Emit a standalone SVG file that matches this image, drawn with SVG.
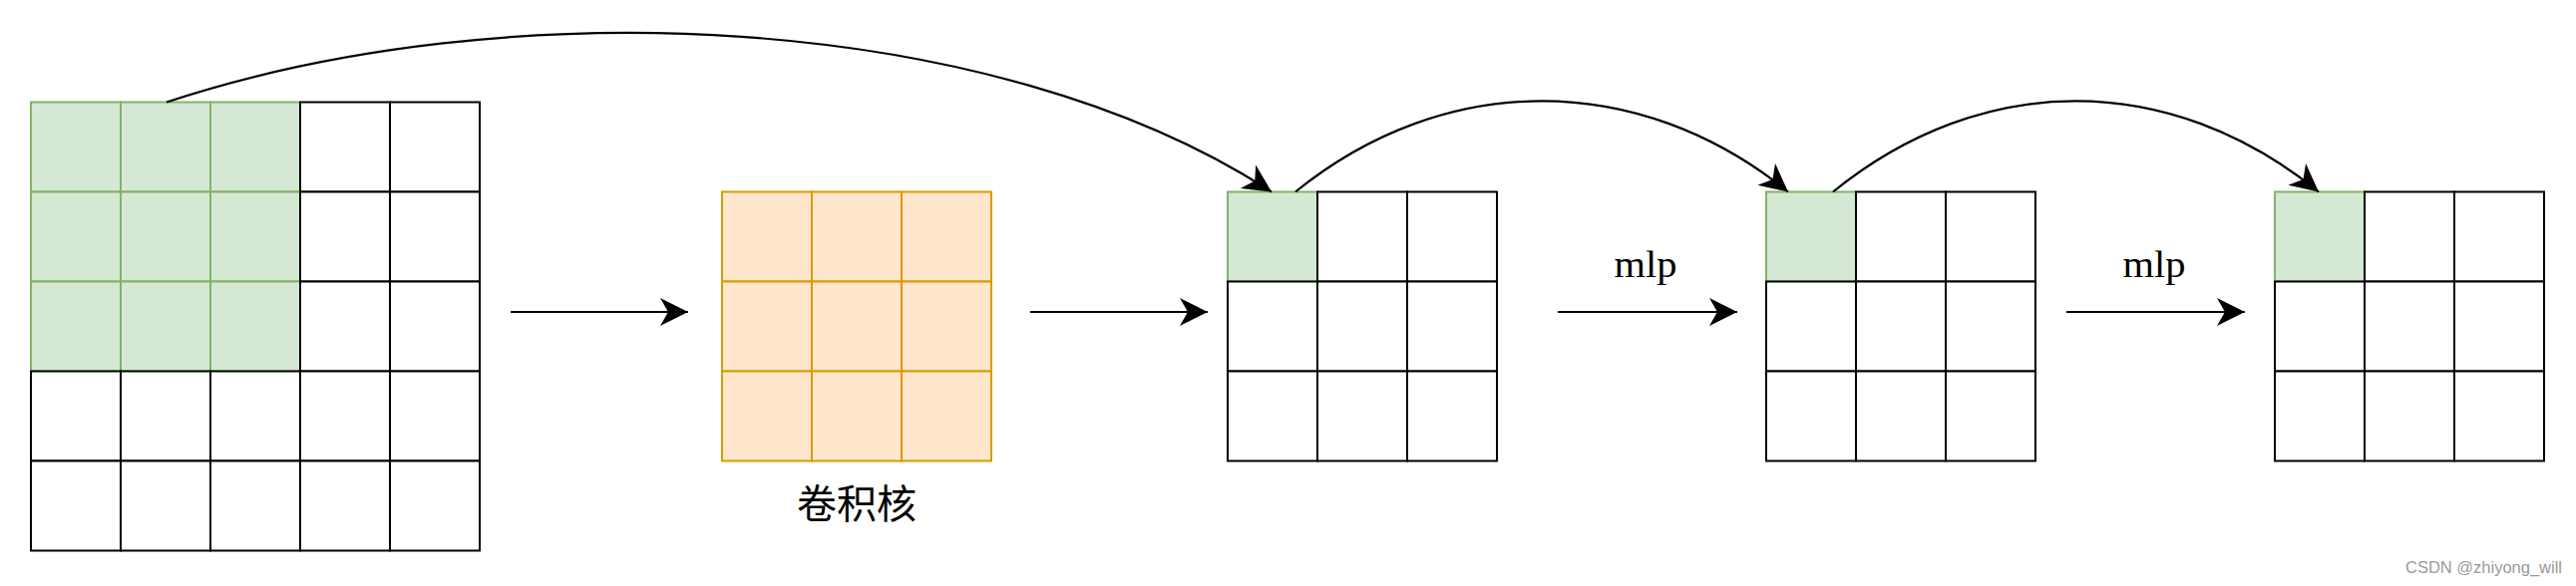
<svg xmlns="http://www.w3.org/2000/svg" width="2583" height="588" viewBox="0 0 2583 588">
<style>
.w{fill:#ffffff;stroke:#000000;stroke-width:2}
.g{fill:#d5e8d4;stroke:#82b366;stroke-width:2}
.o{fill:#ffe6cc;stroke:#d79b00;stroke-width:2}
.e{fill:none;stroke:#000000;stroke-width:2.2}
.lbl{font-family:"Liberation Serif","Times New Roman",serif;font-size:37px;fill:#000000}
.cjk{font-family:"Noto Sans CJK SC","Noto Sans CJK JP",sans-serif;font-size:40px;fill:#000000}
.wm{font-family:"Liberation Sans",Arial,sans-serif;font-size:17px;fill:#9a9a9a}
</style>
<defs>
<marker id="arrow" markerUnits="userSpaceOnUse" viewBox="-30 -15 32 30" markerWidth="32" markerHeight="30" refX="0" refY="0" orient="auto" overflow="visible">
<path d="M0,0 L-28,-14 L-20,0 L-28,14 Z" fill="#000000" stroke="none"/>
</marker>
</defs>
<rect width="2583" height="588" fill="#ffffff"/>

<g id="input-grid">
<rect class="g" x="31" y="102.5" width="90" height="90"/>
<rect class="g" x="121" y="102.5" width="90" height="90"/>
<rect class="g" x="211" y="102.5" width="90" height="90"/>
<rect class="g" x="31" y="192.5" width="90" height="90"/>
<rect class="g" x="121" y="192.5" width="90" height="90"/>
<rect class="g" x="211" y="192.5" width="90" height="90"/>
<rect class="g" x="31" y="282.5" width="90" height="90"/>
<rect class="g" x="121" y="282.5" width="90" height="90"/>
<rect class="g" x="211" y="282.5" width="90" height="90"/>
<rect class="w" x="301" y="102.5" width="90" height="90"/>
<rect class="w" x="391" y="102.5" width="90" height="90"/>
<rect class="w" x="301" y="192.5" width="90" height="90"/>
<rect class="w" x="391" y="192.5" width="90" height="90"/>
<rect class="w" x="301" y="282.5" width="90" height="90"/>
<rect class="w" x="391" y="282.5" width="90" height="90"/>
<rect class="w" x="31" y="372.5" width="90" height="90"/>
<rect class="w" x="121" y="372.5" width="90" height="90"/>
<rect class="w" x="211" y="372.5" width="90" height="90"/>
<rect class="w" x="301" y="372.5" width="90" height="90"/>
<rect class="w" x="391" y="372.5" width="90" height="90"/>
<rect class="w" x="31" y="462.5" width="90" height="90"/>
<rect class="w" x="121" y="462.5" width="90" height="90"/>
<rect class="w" x="211" y="462.5" width="90" height="90"/>
<rect class="w" x="301" y="462.5" width="90" height="90"/>
<rect class="w" x="391" y="462.5" width="90" height="90"/>
</g>

<g id="kernel">
<rect class="o" x="724" y="192.5" width="90" height="90"/>
<rect class="o" x="814" y="192.5" width="90" height="90"/>
<rect class="o" x="904" y="192.5" width="90" height="90"/>
<rect class="o" x="724" y="282.5" width="90" height="90"/>
<rect class="o" x="814" y="282.5" width="90" height="90"/>
<rect class="o" x="904" y="282.5" width="90" height="90"/>
<rect class="o" x="724" y="372.5" width="90" height="90"/>
<rect class="o" x="814" y="372.5" width="90" height="90"/>
<rect class="o" x="904" y="372.5" width="90" height="90"/>
<text class="cjk" x="859" y="520" text-anchor="middle">卷积核</text>
</g>

<g id="feature-map-1">
<rect class="g" x="1231" y="192.5" width="90" height="90"/>
<rect class="w" x="1321" y="192.5" width="90" height="90"/>
<rect class="w" x="1411" y="192.5" width="90" height="90"/>
<rect class="w" x="1231" y="282.5" width="90" height="90"/>
<rect class="w" x="1321" y="282.5" width="90" height="90"/>
<rect class="w" x="1411" y="282.5" width="90" height="90"/>
<rect class="w" x="1231" y="372.5" width="90" height="90"/>
<rect class="w" x="1321" y="372.5" width="90" height="90"/>
<rect class="w" x="1411" y="372.5" width="90" height="90"/>
</g>

<g id="feature-map-2">
<rect class="g" x="1771" y="192.5" width="90" height="90"/>
<rect class="w" x="1861" y="192.5" width="90" height="90"/>
<rect class="w" x="1951" y="192.5" width="90" height="90"/>
<rect class="w" x="1771" y="282.5" width="90" height="90"/>
<rect class="w" x="1861" y="282.5" width="90" height="90"/>
<rect class="w" x="1951" y="282.5" width="90" height="90"/>
<rect class="w" x="1771" y="372.5" width="90" height="90"/>
<rect class="w" x="1861" y="372.5" width="90" height="90"/>
<rect class="w" x="1951" y="372.5" width="90" height="90"/>
</g>

<g id="feature-map-3">
<rect class="g" x="2281" y="192.5" width="90" height="90"/>
<rect class="w" x="2371" y="192.5" width="90" height="90"/>
<rect class="w" x="2461" y="192.5" width="90" height="90"/>
<rect class="w" x="2281" y="282.5" width="90" height="90"/>
<rect class="w" x="2371" y="282.5" width="90" height="90"/>
<rect class="w" x="2461" y="282.5" width="90" height="90"/>
<rect class="w" x="2281" y="372.5" width="90" height="90"/>
<rect class="w" x="2371" y="372.5" width="90" height="90"/>
<rect class="w" x="2461" y="372.5" width="90" height="90"/>
</g>

<g id="connectors">
<path class="e" d="M512,313 L690,313" marker-end="url(#arrow)"/>
<path class="e" d="M1033,313 L1211,313" marker-end="url(#arrow)"/>
<path class="e" d="M1562,313 L1742,313" marker-end="url(#arrow)"/>
<path class="e" d="M2072,313 L2251,313" marker-end="url(#arrow)"/>
<path class="e" d="M167,102.5 C507,-10 995,10 1275,192.5" marker-end="url(#arrow)"/>
<path class="e" d="M1299,192.5 C1449,71 1643,71 1793,192.5" marker-end="url(#arrow)"/>
<path class="e" d="M1838,192.5 C1988,71 2175,71 2325,192.5" marker-end="url(#arrow)"/>
<text class="lbl" x="1650" y="278" text-anchor="middle" textLength="63" lengthAdjust="spacingAndGlyphs">mlp</text>
<text class="lbl" x="2160" y="278" text-anchor="middle" textLength="63" lengthAdjust="spacingAndGlyphs">mlp</text>
</g>

<text class="wm" x="2569" y="575" text-anchor="end" textLength="157" lengthAdjust="spacingAndGlyphs">CSDN @zhiyong_will</text>
</svg>
